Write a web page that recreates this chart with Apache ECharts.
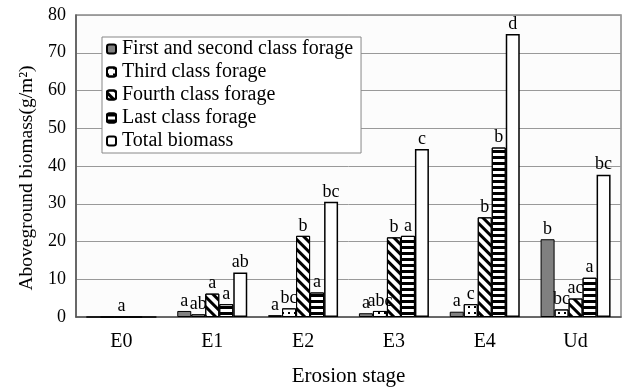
<!DOCTYPE html>
<html>
<head>
<meta charset="utf-8">
<script src="https://cdn.jsdelivr.net/npm/echarts@6/dist/echarts.min.js"></script>
<style>
  html, body { margin: 0; padding: 0; background: #fff; }
  #chart { width: 623px; height: 387px; }
</style>
</head>
<body>
<div id="chart"></div>
<script>
// erosion stages
const stages = ['E0', 'E1', 'E2', 'E3', 'E4', 'Ud']
const seriesNames = ['First and second class forage', 'Third class forage', 'Fourth class forage', 'Last class forage', 'Total biomass']

// biomass values (g/m2)
const firstSecond = [0, 1.6, 0.5, 1.0, 1.4, 20.6]
const third = [0, 0.7, 2.3, 1.6, 3.4, 2.0]
const fourth = [0, 6.2, 21.5, 21.1, 26.4, 4.9]
const last = [0, 3.4, 6.5, 21.5, 44.9, 10.4]
const total = [0, 11.8, 30.5, 44.5, 75, 37.7]

// significance letters above bars
const firstSecondLetters = ['', 'a', 'a', 'a', 'a', 'b']
const thirdLetters = ['', 'ab', 'bc', 'abc', 'c', 'bc']
const fourthLetters = ['a', 'a', 'b', 'b', 'b', 'ac']
const lastLetters = ['', 'a', 'a', 'a', 'b', 'a']
const totalLetters = ['', 'ab', 'bc', 'c', 'd', 'bc']

const yTicks = [0, 10, 20, 30, 40, 50, 60, 70, 80]

const serif = 'Liberation Serif'

const chart = echarts.init(document.getElementById('chart'), null, { renderer: 'canvas' })

const makeSeries = (name, data, letters, fill, decal, bw) => ({
    name: name,
    type: 'bar',
    data: data,
    barWidth: 14,
    barGap: '0%',
    itemStyle: {
        color: fill,
        borderColor: '#000',
        borderWidth: bw || 1,
        decal: decal
    },
    label: {
        show: true,
        position: 'top',
        distance: 1,
        color: '#000',
        fontFamily: serif,
        fontSize: 18,
        formatter: p => letters[p.dataIndex]
    }
})

const option = {
    animation: false,
    backgroundColor: '#fff',
    grid: {
        left: 76, right: 2, top: 15, bottom: 70,
        containLabel: false,
        outerBoundsMode: 'none',
        show: true,
        borderColor: '#888',
        borderWidth: 1.5,
        backgroundColor: '#fcfcfc'
    },
    legend: {
        orient: 'vertical',
        left: 102,
        top: 37,
        data: seriesNames,
        itemWidth: 9,
        itemHeight: 9,
        itemGap: 3,
        padding: [2, 8, 2, 4],
        backgroundColor: '#fff',
        borderColor: '#888',
        borderWidth: 1,
        textStyle: { fontFamily: serif, fontSize: 20, lineHeight: 20, color: '#000', padding: [0, 0, 0, 1] }
    },
    xAxis: {
        type: 'category',
        data: stages,
        name: 'Erosion stage',
        nameLocation: 'middle',
        nameGap: 49,
        nameTextStyle: { fontFamily: serif, fontSize: 21, color: '#000' },
        axisLine: { lineStyle: { color: '#555', width: 1.5 } },
        axisTick: { inside: true, length: 3, lineStyle: { color: '#555' } },
        axisLabel: { fontFamily: serif, fontSize: 20, color: '#000', margin: 15 }
    },
    yAxis: {
        type: 'value',
        min: yTicks[0],
        max: yTicks[yTicks.length - 1],
        interval: 10,
        name: 'Aboveground biomass(g/m²)',
        nameLocation: 'middle',
        nameGap: 39,
        nameTextStyle: { fontFamily: serif, fontSize: 19.5, color: '#000', padding: [0, 24, 0, 0] },
        axisLine: { show: true, lineStyle: { color: '#555', width: 1.5 } },
        axisTick: { show: false },
        axisLabel: { fontFamily: serif, fontSize: 18, color: '#000', margin: 10 },
        splitLine: { lineStyle: { color: '#999', width: 1 } }
    },
    series: [
        makeSeries(seriesNames[0], firstSecond, firstSecondLetters, '#808080', null),
        makeSeries(seriesNames[1], third, thirdLetters, '#fff', {
            symbol: 'rect', symbolSize: 1, color: '#000',
            dashArrayX: [1.5, 4], dashArrayY: [1.5, 4]
        }),
        makeSeries(seriesNames[2], fourth, fourthLetters, '#fff', {
            symbol: 'rect', symbolSize: 1, color: '#000',
            dashArrayX: [1, 0], dashArrayY: [3, 4], rotation: Math.PI / 4
        }),
        makeSeries(seriesNames[3], last, lastLetters, '#fff', {
            symbol: 'rect', symbolSize: 1, color: '#000',
            dashArrayX: [1, 0], dashArrayY: [2.5, 3]
        }),
        makeSeries(seriesNames[4], total, totalLetters, '#fff', null, 1.5)
    ]
}

chart.setOption(option)
</script>
</body>
</html>
